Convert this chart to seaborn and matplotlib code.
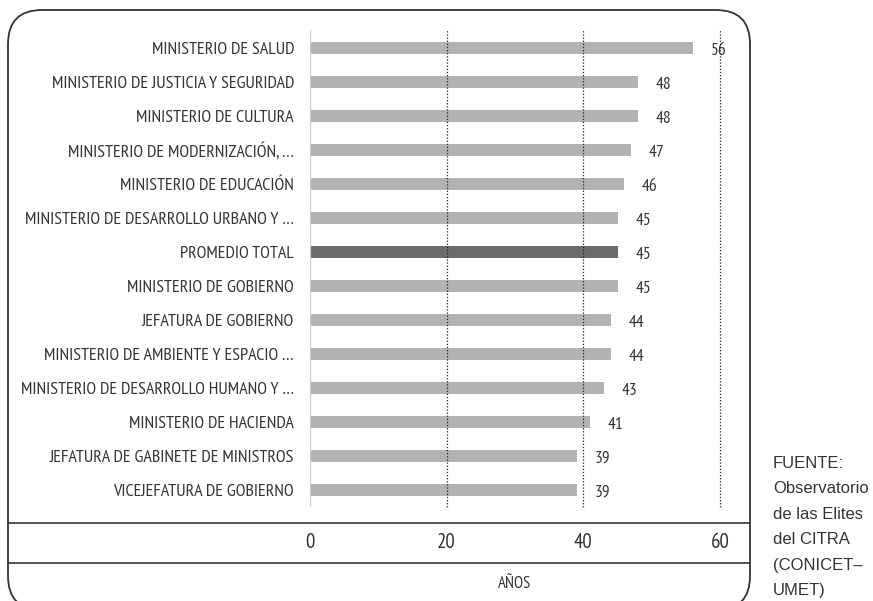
import matplotlib
matplotlib.use("Agg")
import matplotlib.pyplot as plt
from matplotlib.patches import FancyBboxPatch
import seaborn as sns
import pandas as pd

categories = [
    "MINISTERIO DE SALUD",
    "MINISTERIO DE JUSTICIA Y SEGURIDAD",
    "MINISTERIO DE CULTURA",
    "MINISTERIO DE MODERNIZACIÓN, …",
    "MINISTERIO DE EDUCACIÓN",
    "MINISTERIO DE DESARROLLO URBANO Y …",
    "PROMEDIO TOTAL",
    "MINISTERIO DE GOBIERNO",
    "JEFATURA DE GOBIERNO",
    "MINISTERIO DE AMBIENTE Y ESPACIO …",
    "MINISTERIO DE DESARROLLO HUMANO Y …",
    "MINISTERIO DE HACIENDA",
    "JEFATURA DE GABINETE DE MINISTROS",
    "VICEJEFATURA DE GOBIERNO",
]
edad_promedio = [56, 48, 48, 47, 46, 45, 45, 45, 44, 44, 43, 41, 39, 39]
x_ticks = [0, 20, 40, 60]
x_label = "AÑOS"
fuente_lines = ["FUENTE:", "Observatorio", "de las Elites", "del CITRA", "(CONICET–", "UMET)"]

sns.set_theme(style="white")
plt.rcParams["font.family"] = ["PT Sans Narrow", "DejaVu Sans"]

TXT = "#333333"
W, H = 873, 601
fig = plt.figure(figsize=(W / 100, H / 100), dpi=100)

# full-figure overlay in pixel units (y measured upward) for frame and source note
frame_ax = fig.add_axes([0, 0, 1, 1], zorder=0)
frame_ax.set_xlim(0, W)
frame_ax.set_ylim(0, H)
frame_ax.axis("off")
frame_ax.add_patch(FancyBboxPatch((8, H - 610), 742, 600,
                                  boxstyle="round,pad=0,rounding_size=34",
                                  fill=False, edgecolor="#333333", linewidth=1.3,
                                  clip_on=False))
for py in (523, 563):
    frame_ax.plot([8, 750], [H - py, H - py], color="#333333", lw=1.2, clip_on=False)
for k, line in enumerate(fuente_lines):
    frame_ax.text(773, H - (463 + k * 25.6), line, ha="left", va="center", fontsize=12,
                  color=TXT, family=["Liberation Sans", "DejaVu Sans"])

# bar chart
ax = fig.add_axes([310 / W, 1 - 507 / H, 410 / W, (507 - 30) / H], zorder=1)
ax.patch.set_alpha(0)

df = pd.DataFrame({"cat": categories, "val": edad_promedio})
colors = {c: ("#6b6b6b" if c == "PROMEDIO TOTAL" else "#b2b2b2") for c in categories}
sns.barplot(data=df, x="val", y="cat", hue="cat", palette=colors, legend=False,
            orient="h", width=0.38, ax=ax, saturation=1, zorder=2, linewidth=0)

ax.set_xlim(0, 60)
ax.set_ylim(13.5, -0.53)
for s in ax.spines.values():
    s.set_visible(False)
ax.axvline(0, color="#cccccc", lw=1.6, zorder=3)
for t in x_ticks[1:]:
    ax.axvline(t, color="#222222", lw=0.9, ls=(0, (1, 1.5)), zorder=4, clip_on=False)

ax.set_xticks(x_ticks)
ax.set_xticklabels([str(t) for t in x_ticks], fontsize=15, color=TXT)
ax.tick_params(axis="x", length=0, pad=19)
ax.tick_params(axis="y", length=0, pad=11.5, labelsize=13, labelcolor=TXT)
ax.set_ylabel("")
ax.set_xlabel(x_label, fontsize=12, color=TXT, labelpad=17)

for i, v in enumerate(edad_promedio):
    ax.text(v + 2.6, i + 0.08, str(v), va="center", ha="left", fontsize=12.5,
            color=TXT, zorder=5)

fig.savefig("out.png", dpi=100)
